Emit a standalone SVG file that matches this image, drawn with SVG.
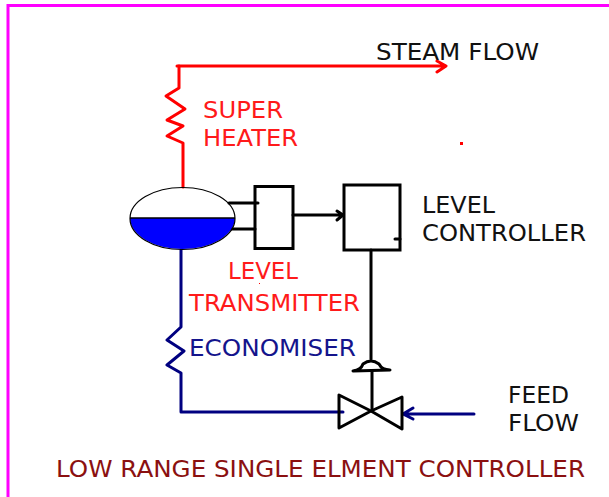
<svg xmlns="http://www.w3.org/2000/svg" width="609" height="497" viewBox="0 0 609 497">
<style>
text{font-family:"DejaVu Sans","Liberation Sans",sans-serif;font-size:23px}
.k{fill:#111}.r{fill:#ff1a1a}.n{fill:#14148c}.m{fill:#8b1010}
.ln{fill:none;stroke-linejoin:round;stroke-linecap:round}
.red{stroke:#ff0000;stroke-width:3}
.blu{stroke:#000080;stroke-width:3}
.blk{stroke:#000;stroke-width:3}
.box{fill:none;stroke:#000;stroke-width:3}
</style>
<rect x="0" y="0" width="609" height="497" fill="#fff"/>
<path id="border" d="M609 5.500H8V497" fill="none" stroke="#ff00ff" stroke-width="3"/>
<g id="connectors">
<path class="ln red" d="M177 66H445M437 61L446 66L437 72"/>
<path class="ln red" d="M179 66V88L166 96L185 109L167 120L183 126L167 136L183 143V187"/>
<path class="ln blu" d="M181 250V327L167 340L184 351L167 365L181 373V412H343"/>
<path class="ln blu" d="M474 414H403M413 408L403 414L413 419"/>
<path class="ln blk" d="M229 203H258M231 229H255"/>
<path class="ln blk" d="M293 215H342M337 211L343 215L337 220"/>
<path class="ln blk" d="M371 250V359M372 371V411"/>
<path class="ln blk" d="M395 239H400"/>
</g>
<g id="drum">
<path d="M130 218A52.500 31 0 0 0 235 218Z" fill="#0000ff"/>
<ellipse cx="182.500" cy="218.500" rx="52.500" ry="31" fill="none" stroke="#000" stroke-width="1.200"/>
<path d="M130 218H235" stroke="#000" stroke-width="1.500"/>
</g>
<g id="transmitter"><rect class="box" x="255" y="186.500" width="38" height="62"/></g>
<g id="controller"><rect class="box" x="344" y="185" width="56" height="65"/></g>
<g id="valve">
<path class="ln blk" stroke-width="2.500" d="M353 371Q361 370 363 364Q371 358 379 364Q382 370 390 370Z"/>
<path class="ln blk" d="M339 395V428L371 411L402 429V397L371 411Z"/>
</g>
<g id="labels">
<text class="k" x="376" y="60" textLength="163" lengthAdjust="spacingAndGlyphs">STEAM FLOW</text>
<text class="r" x="203" y="118" textLength="80" lengthAdjust="spacingAndGlyphs">SUPER</text>
<text class="r" x="203" y="146" textLength="95" lengthAdjust="spacingAndGlyphs">HEATER</text>
<text class="k" x="422" y="213" textLength="73" lengthAdjust="spacingAndGlyphs">LEVEL</text>
<text class="k" x="422" y="241" textLength="164" lengthAdjust="spacingAndGlyphs">CONTROLLER</text>
<text class="r" x="228" y="279" textLength="70" lengthAdjust="spacingAndGlyphs">LEVEL</text>
<text class="r" x="189" y="311" textLength="171" lengthAdjust="spacingAndGlyphs">TRANSMITTER</text>
<text class="n" x="189" y="356" textLength="167" lengthAdjust="spacingAndGlyphs">ECONOMISER</text>
<text class="k" x="508" y="403" textLength="61" lengthAdjust="spacingAndGlyphs">FEED</text>
<text class="k" x="508" y="431" textLength="71" lengthAdjust="spacingAndGlyphs">FLOW</text>
<text class="m" x="56" y="477" textLength="529" lengthAdjust="spacingAndGlyphs">LOW RANGE SINGLE ELMENT CONTROLLER</text>
</g>
<g id="specks" fill="#ff0000"><rect x="460" y="142" width="3" height="3"/><rect x="259" y="283" width="1" height="1"/></g>
</svg>
